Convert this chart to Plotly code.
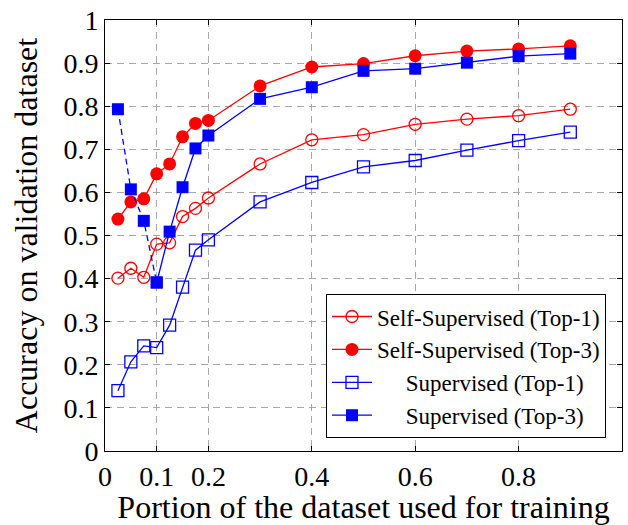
import plotly.graph_objects as go

portion = [0.025, 0.05, 0.075, 0.1, 0.125, 0.15, 0.175, 0.2, 0.3, 0.4, 0.5, 0.6, 0.7, 0.8, 0.9]
self_top1 = [0.401, 0.424, 0.403, 0.480, 0.483, 0.544, 0.563, 0.587, 0.666, 0.722, 0.734, 0.758, 0.770, 0.778, 0.793]
self_top3 = [0.538, 0.578, 0.585, 0.643, 0.666, 0.729, 0.760, 0.767, 0.847, 0.891, 0.899, 0.917, 0.928, 0.933, 0.940]
sup_top1 = [0.140, 0.207, 0.244, 0.240, 0.292, 0.380, 0.466, 0.490, 0.578, 0.623, 0.659, 0.674, 0.698, 0.720, 0.740]
sup_top3 = [0.793, 0.607, 0.534, 0.391, 0.509, 0.612, 0.702, 0.732, 0.817, 0.844, 0.882, 0.887, 0.901, 0.916, 0.922]
x_ticks = [0, 0.1, 0.2, 0.4, 0.6, 0.8, 1]
x_tick_text = ["0", "0.1", "0.2", "0.4", "0.6", "0.8", "1"]
y_ticks = [0, 0.1, 0.2, 0.3, 0.4, 0.5, 0.6, 0.7, 0.8, 0.9, 1]
y_tick_text = ["0", "0.1", "0.2", "0.3", "0.4", "0.5", "0.6", "0.7", "0.8", "0.9", "1"]

RED = "#ff0000"
BLUE = "#0000ff"
FONT = "Liberation Serif"

fig = go.Figure()
fig.add_trace(go.Scatter(
    x=portion, y=self_top1, mode="lines+markers", name="Self-Supervised (Top-1)",
    line=dict(color=RED, width=1.3),
    marker=dict(symbol="circle-open", size=12, color=RED, line=dict(width=1.3)),
))
fig.add_trace(go.Scatter(
    x=portion, y=self_top3, mode="lines+markers", name="Self-Supervised (Top-3)",
    line=dict(color=RED, width=1.3),
    marker=dict(symbol="circle", size=13, color=RED),
))
fig.add_trace(go.Scatter(
    x=portion, y=sup_top1, mode="lines+markers", name="     Supervised (Top-1)",
    line=dict(color=BLUE, width=1.3),
    marker=dict(symbol="square-open", size=12, color=BLUE, line=dict(width=1.3)),
))
# dashed early segment of Supervised (Top-3)
fig.add_trace(go.Scatter(
    x=portion[:4], y=sup_top3[:4], mode="lines+markers", showlegend=False,
    line=dict(color=BLUE, width=1.3, dash="6px,4px"),
    marker=dict(symbol="square", size=12, color=BLUE),
))
fig.add_trace(go.Scatter(
    x=portion[3:], y=sup_top3[3:], mode="lines+markers", name="     Supervised (Top-3)",
    line=dict(color=BLUE, width=1.3),
    marker=dict(symbol="square", size=12, color=BLUE),
))

axis_common = dict(
    showline=True, linecolor="black", linewidth=1, mirror="ticks",
    ticks="inside", ticklen=5, tickcolor="black",
    showgrid=True, gridcolor="#a8a8a8", griddash="7px,5px", gridwidth=1,
    zeroline=False, tickfont=dict(family=FONT, size=28, color="black"),
)

fig.update_layout(
    width=628, height=525,
    margin=dict(l=105, r=6, t=20, b=74),
    paper_bgcolor="white", plot_bgcolor="white",
    font=dict(family=FONT, size=28, color="black"),
    xaxis=dict(range=[0, 1], tickvals=x_ticks, ticktext=x_tick_text,
               title=dict(text="Portion of the dataset used for training", standoff=4,
                          font=dict(family=FONT, size=32)),
               **axis_common),
    yaxis=dict(range=[0, 1], tickvals=y_ticks, ticktext=y_tick_text,
               title=dict(text="Accuracy on validation dataset", standoff=16,
                          font=dict(family=FONT, size=32)),
               **axis_common),
    legend=dict(x=0.969, y=0.03, xanchor="right", yanchor="bottom",
                bgcolor="white", bordercolor="black", borderwidth=1,
                font=dict(family=FONT, size=23), tracegroupgap=0, itemwidth=40),
    showlegend=True,
)

fig.write_html("out.html")
